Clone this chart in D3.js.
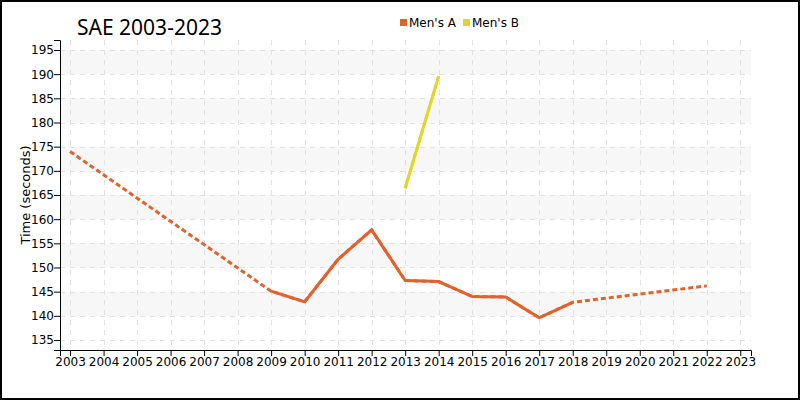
<!DOCTYPE html>
<html><head><meta charset="utf-8">
<script src="https://cdn.jsdelivr.net/npm/d3@7"></script>
<style>body{margin:0;background:#fff}svg{display:block}</style>
</head><body>
<svg id="c" width="800" height="400"></svg>
<script>
const years = [2003,2004,2005,2006,2007,2008,2009,2010,2011,2012,2013,2014,2015,2016,2017,2018,2019,2020,2021,2022,2023];
const menA = [174.0,null,null,null,null,null,145.1,142.9,151.7,157.8,147.3,147.1,144.0,143.9,139.6,142.8,null,null,null,146.2,null];
const menB = [null,null,null,null,null,null,null,null,null,null,166.4,189.6,null,null,null,null,null,null,null,null,null];
const yTicks = [135,140,145,150,155,160,165,170,175,180,185,190,195];
const seriesNames = ["Men's A","Men's B"];
const colors = ["#e3612d","#e2d62a"];
const title = "SAE 2003-2023";
const yLabel = "Time (seconds)";

const svg = d3.select("#c");
const L=60, R=751, T=40, B=350;
const x = d3.scaleLinear().domain([2002.7,2023.32]).range([L,R]);
const y = d3.scaleLinear().domain([132.93,197.07]).range([B,T]);

svg.append("rect").attr("x",1).attr("y",1).attr("width",798).attr("height",398)
  .attr("fill","#fff").attr("stroke","#000").attr("stroke-width",2);

// bands
const bands = yTicks.filter(v=>v%10===0 && v<195);
svg.append("g").selectAll("rect").data(bands).join("rect")
  .attr("x",L).attr("width",R-L)
  .attr("y",d=>y(d+5)).attr("height",d=>y(d)-y(d+5))
  .attr("fill","#f7f7f7");

// grid
const grid = svg.append("g").attr("stroke","#e2e2e2").attr("stroke-dasharray","5,5").attr("stroke-width",1);
grid.selectAll("line.h").data(yTicks).join("line").attr("class","h")
  .attr("x1",L).attr("x2",R).attr("y1",d=>Math.round(y(d))+0.5).attr("y2",d=>Math.round(y(d))+0.5);
grid.selectAll("line.v").data(years).join("line").attr("class","v")
  .attr("y1",T).attr("y2",B).attr("x1",d=>Math.round(x(d))+0.5).attr("x2",d=>Math.round(x(d))+0.5);

// axes
const xAxis = svg.append("g").attr("transform",`translate(0,${B})`)
  .call(d3.axisBottom(x).tickValues(years).tickFormat(d3.format("d")).tickSizeOuter(0).tickSize(6));
const yAxis = svg.append("g").attr("transform",`translate(${L},0)`)
  .call(d3.axisLeft(y).tickValues(yTicks).tickSizeOuter(0).tickSize(6));
[xAxis,yAxis].forEach(a=>{
  a.selectAll("text").attr("font-family","DejaVu Sans").attr("font-size",12).attr("fill","#000");
  a.select(".domain").attr("stroke","#000");
  a.selectAll(".tick line").attr("stroke","#000");
});
xAxis.selectAll("text").attr("dy","0.71em").attr("y",7);
yAxis.selectAll("text").attr("x",-6);

// lines
const seriesData = [menA,menB];
seriesData.forEach((vals,i)=>{
  const pts = years.map((yr,j)=>({yr,v:vals[j]}));
  const defined = pts.filter(p=>p.v!==null);
  const line = d3.line().x(d=>x(d.yr)).y(d=>y(d.v));
  svg.append("path").datum(defined).attr("d",line)
    .attr("fill","none").attr("stroke",colors[i]).attr("stroke-width",3)
    .attr("stroke-dasharray","5,3");
  svg.append("path").datum(pts).attr("d",line.defined(d=>d.v!==null))
    .attr("fill","none").attr("stroke",colors[i]).attr("stroke-width",3)
    .attr("stroke-linejoin","round");
});

// title
svg.append("text").attr("x",77).attr("y",35).text(title)
  .attr("font-family","Noto Sans").attr("font-size",21).attr("fill","#000");

// y label
svg.append("text").attr("transform",`translate(30,${(T+B)/2}) rotate(-90)`)
  .attr("text-anchor","middle").text(yLabel)
  .attr("font-family","DejaVu Sans").attr("font-size",13).attr("fill","#000");

// legend
const lx = [400,463];
seriesNames.forEach((n,i)=>{
  svg.append("rect").attr("x",lx[i]).attr("y",19).attr("width",7).attr("height",7).attr("fill",colors[i]);
  svg.append("text").attr("x",lx[i]+9).attr("y",22.5).attr("dy","0.35em").text(n)
    .attr("font-family","DejaVu Sans").attr("font-size",12).attr("fill","#000");
});
</script>
</body></html>
